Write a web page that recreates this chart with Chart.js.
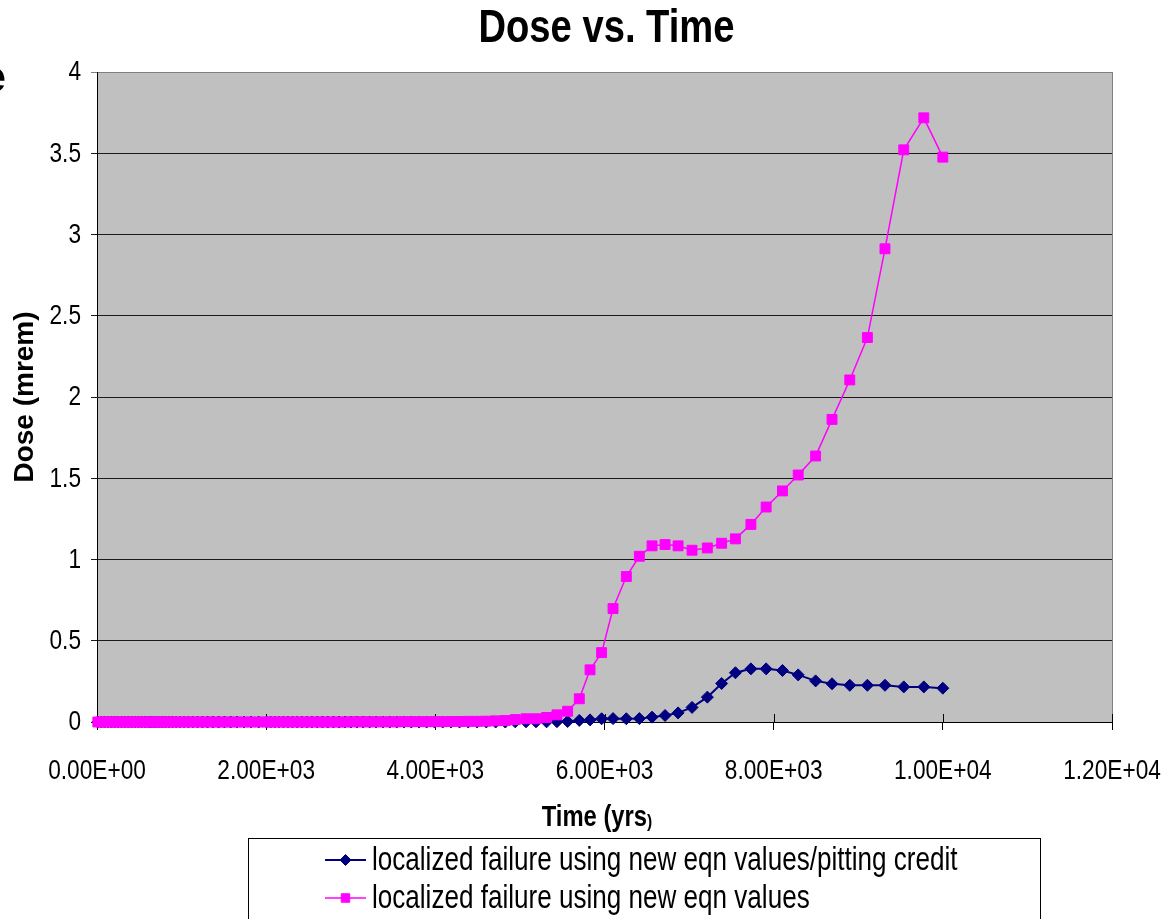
<!DOCTYPE html>
<html>
<head>
<meta charset="utf-8">
<title>Dose vs. Time</title>
<script src="https://cdn.jsdelivr.net/npm/chart.js@4.4.1/dist/chart.umd.min.js"></script>
<style>
  html, body { margin: 0; padding: 0; background: #ffffff; }
  #wrap { width: 1176px; height: 919px; position: relative; }
</style>
</head>
<body>
<div id="wrap"><canvas id="doseChart" width="1176" height="919"></canvas></div>
<script>
// Time steps (years) shared by both model runs
const timeYears = [
  10, 50, 90, 130, 170, 210, 250, 290, 330, 370, 410, 450, 490, 530, 570,
  611, 640, 672, 704, 739, 775, 812, 852, 893, 937, 982, 1030, 1080, 1133, 1188, 1246, 1307, 1370, 1437, 1507,
  1580, 1657, 1738, 1822, 1911, 2004,
  2052, 2102, 2152, 2204, 2257, 2311, 2367, 2424, 2482, 2541, 2603, 2665, 2729, 2795, 2862, 2931,
  3001, 3073, 3147, 3223, 3300, 3380, 3461, 3544, 3629, 3716, 3806, 3897, 3991, 4087,
  4185, 4286, 4389, 4494, 4602, 4713,
  4827, 4945, 5072, 5190, 5315, 5438, 5564, 5702, 5829, 5966, 6101, 6258, 6412, 6562, 6716, 6870,
  7035, 7216, 7385, 7548, 7731, 7911, 8104, 8290, 8496, 8690, 8900, 9108, 9316, 9538, 9775, 10000
];

// Dose (mrem): localized failure, new equation values with pitting credit
const pittingCreditDose = [
  0, 0, 0, 0, 0, 0, 0, 0, 0, 0, 0, 0, 0, 0, 0,
  0, 0, 0, 0, 0, 0, 0, 0, 0, 0, 0, 0, 0, 0, 0, 0, 0, 0, 0, 0,
  0, 0, 0, 0, 0, 0,
  0, 0, 0, 0, 0, 0, 0, 0, 0, 0, 0, 0, 0, 0, 0, 0,
  0, 0, 0, 0, 0, 0, 0, 0, 0, 0, 0, 0, 0, 0,
  0, 0, 0, 0, 0, 0,
  0, 0.001, 0.001, 0.001, 0.001, 0.002, 0.003, 0.010, 0.013, 0.020, 0.021, 0.020, 0.021, 0.030, 0.040, 0.056,
  0.090, 0.153, 0.237, 0.303, 0.327, 0.327, 0.317, 0.290, 0.253, 0.235, 0.226, 0.226, 0.226, 0.216, 0.216, 0.208
];

// Dose (mrem): localized failure, new equation values
const newEqnDose = [
  0, 0, 0, 0, 0, 0, 0, 0, 0, 0, 0, 0, 0, 0, 0,
  0, 0, 0, 0, 0, 0, 0, 0, 0, 0, 0, 0, 0, 0, 0, 0, 0, 0, 0, 0,
  0, 0, 0, 0, 0, 0,
  0, 0, 0, 0, 0, 0, 0, 0, 0, 0, 0, 0, 0, 0, 0, 0,
  0.001, 0.001, 0.001, 0.001, 0.001, 0.001, 0.001, 0.001, 0.002, 0.002, 0.002, 0.002, 0.002, 0.002,
  0.003, 0.003, 0.004, 0.004, 0.005, 0.007,
  0.009, 0.015, 0.020, 0.020, 0.028, 0.044, 0.066, 0.143, 0.321, 0.427, 0.698, 0.895, 1.020, 1.084, 1.092, 1.084,
  1.057, 1.071, 1.100, 1.127, 1.216, 1.323, 1.422, 1.520, 1.637, 1.862, 2.105, 2.366, 2.912, 3.521, 3.718, 3.476
];

const seriesNames = [
  'localized failure using new eqn values/pitting credit',
  'localized failure using new eqn values'
];

const xTickValues = [0, 2000, 4000, 6000, 8000, 10000, 12000];
const xTickLabels = ['0.00E+00', '2.00E+03', '4.00E+03', '6.00E+03', '8.00E+03', '1.00E+04', '1.20E+04'];
const yTickValues = [0, 0.5, 1, 1.5, 2, 2.5, 3, 3.5, 4];
const yTickLabels = ['0', '0.5', '1', '1.5', '2', '2.5', '3', '3.5', '4'];

const FAMILY = "'Liberation Sans', Arial, sans-serif";

const toPoints = (values) => timeYears.map((t, i) => ({ x: t, y: values[i] }));

// Text in a narrow face: the regular sans squeezed horizontally
function narrowText(ctx, text, x, y, font, align, squeeze) {
  ctx.save();
  ctx.font = font;
  ctx.textAlign = align;
  ctx.textBaseline = 'middle';
  ctx.fillStyle = '#000000';
  ctx.translate(x, y);
  ctx.scale(squeeze, 1);
  ctx.fillText(text, 0, 0);
  ctx.restore();
}
function narrowWidth(ctx, text, font, squeeze) {
  ctx.save();
  ctx.font = font;
  const w = ctx.measureText(text).width * squeeze;
  ctx.restore();
  return w;
}

// Silver plot background, crossing x tick marks, grey frame edge, titles, tick labels, legend
const plotFrame = {
  id: 'plotFrame',
  beforeDraw(chart) {
    const { ctx, chartArea: a } = chart;
    ctx.save();
    ctx.fillStyle = '#c0c0c0';
    ctx.fillRect(a.left, a.top, a.right - a.left, a.bottom - a.top);
    ctx.restore();
  },
  beforeDatasetsDraw(chart) {
    const { ctx, chartArea: a } = chart;
    const xs = chart.scales.x;
    ctx.save();
    ctx.strokeStyle = '#808080';
    ctx.lineWidth = 1;
    ctx.beginPath();
    ctx.moveTo(Math.round(a.right) + 0.5, a.top);
    ctx.lineTo(Math.round(a.right) + 0.5, a.bottom);
    ctx.stroke();
    ctx.strokeStyle = '#000000';
    ctx.beginPath();
    xTickValues.forEach(v => {
      const px = Math.round(xs.getPixelForValue(v)) + 0.5;
      ctx.moveTo(px, a.bottom - 8);
      ctx.lineTo(px, a.bottom);
    });
    ctx.stroke();
    ctx.restore();
  },
  afterDraw(chart) {
    const { ctx, chartArea: a } = chart;
    const xs = chart.scales.x;
    const ys = chart.scales.y;

    // chart title
    narrowText(ctx, 'Dose vs. Time', (a.left + a.right) / 2 + 2, 29, 'bold 46px ' + FAMILY, 'center', 0.83);

    // clipped trailing letter at the left edge
    ctx.save();
    ctx.fillStyle = '#000000';
    ctx.font = 'bold 45px ' + FAMILY;
    ctx.textBaseline = 'alphabetic';
    ctx.textAlign = 'left';
    ctx.fillText('e', -19, 92);
    ctx.restore();

    // tick labels
    const tickFont = '27px ' + FAMILY;
    xTickValues.forEach((v, i) => {
      narrowText(ctx, xTickLabels[i], xs.getPixelForValue(v), a.bottom + 50, tickFont, 'center', 0.84);
    });
    yTickValues.forEach((v, i) => {
      narrowText(ctx, yTickLabels[i], a.left - 16, ys.getPixelForValue(v) + 1, tickFont, 'right', 0.84);
    });

    // x axis title, with the smaller closing parenthesis
    const big = 'bold 29px ' + FAMILY;
    const small = 'bold 19px ' + FAMILY;
    const w1 = narrowWidth(ctx, 'Time (yrs', big, 0.82);
    const w2 = narrowWidth(ctx, ')', small, 0.82);
    const x0 = 597 - (w1 + w2) / 2;
    narrowText(ctx, 'Time (yrs', x0, a.bottom + 96, big, 'left', 0.82);
    narrowText(ctx, ')', x0 + w1, a.bottom + 100, small, 'left', 0.82);

    // legend box
    const top = a.bottom + 116;
    ctx.save();
    ctx.strokeStyle = '#000000';
    ctx.lineWidth = 1;
    ctx.strokeRect(248.5, top + 0.5, 792, 120);
    [0, 1].forEach((di, row) => {
      const ds = chart.data.datasets[di];
      const y = top + 22 + row * 38;
      ctx.strokeStyle = ds.borderColor;
      ctx.lineWidth = ds.borderWidth;
      ctx.beginPath();
      ctx.moveTo(325, y);
      ctx.lineTo(366, y);
      ctx.stroke();
      ctx.fillStyle = ds.pointBackgroundColor;
      ctx.strokeStyle = ds.pointBorderColor;
      ctx.lineWidth = 1;
      Chart.helpers.drawPoint(ctx, { pointStyle: ds.pointStyle, radius: ds.pointStyle === 'rect' ? 6 : 5.5, rotation: 0, borderWidth: 1 }, 345.5, y);
      narrowText(ctx, ds.label, 372, y + 1, '33px ' + FAMILY, 'left', 0.79);
    });
    ctx.restore();
  }
};

new Chart(document.getElementById('doseChart'), {
  type: 'line',
  data: {
    datasets: [
      {
        label: seriesNames[0],
        data: toPoints(pittingCreditDose),
        borderColor: '#000080',
        backgroundColor: '#000080',
        pointBackgroundColor: '#000080',
        pointBorderColor: '#000080',
        borderWidth: 2,
        pointStyle: 'rectRot',
        pointRadius: 6,
        pointBorderWidth: 1,
        tension: 0,
        clip: false,
        order: 1
      },
      {
        label: seriesNames[1],
        data: toPoints(newEqnDose),
        borderColor: '#ff00ff',
        backgroundColor: '#ff00ff',
        pointBackgroundColor: '#ff00ff',
        pointBorderColor: '#ff00ff',
        borderWidth: 1.5,
        pointStyle: 'rect',
        pointRadius: 7,
        pointBorderWidth: 1,
        tension: 0,
        clip: false,
        order: 0
      }
    ]
  },
  options: {
    responsive: false,
    animation: false,
    devicePixelRatio: 1,
    layout: { padding: { left: 0, right: 64, top: 72, bottom: 87 } },
    plugins: {
      legend: { display: false },
      tooltip: { enabled: false },
      title: { display: false }
    },
    scales: {
      x: {
        type: 'linear',
        min: 0,
        max: 12000,
        afterFit(scale) { scale.height = 110; },
        afterBuildTicks(scale) { scale.ticks = xTickValues.map(v => ({ value: v })); },
        ticks: { display: false },
        grid: {
          drawOnChartArea: false,
          drawTicks: true,
          tickLength: 8,
          color: '#000000',
          lineWidth: 1
        },
        border: { display: true, color: '#000000', width: 1 },
        title: { display: false }
      },
      y: {
        type: 'linear',
        min: 0,
        max: 4,
        afterFit(scale) { scale.width = 97; },
        afterBuildTicks(scale) { scale.ticks = yTickValues.map(v => ({ value: v })); },
        ticks: { display: false },
        grid: {
          drawOnChartArea: true,
          drawTicks: true,
          tickLength: 6,
          color: (c) => (c.tick && c.tick.value === 4 ? '#808080' : '#1a1a1a'),
          lineWidth: 1
        },
        border: { display: true, color: '#000000', width: 1 },
        title: {
          display: true,
          text: 'Dose (mrem)',
          color: '#000000',
          font: { family: FAMILY, size: 28, weight: 'bold', lineHeight: 1.2 },
          padding: { top: 8, bottom: 0 }
        }
      }
    }
  },
  plugins: [plotFrame]
});
</script>
</body>
</html>
